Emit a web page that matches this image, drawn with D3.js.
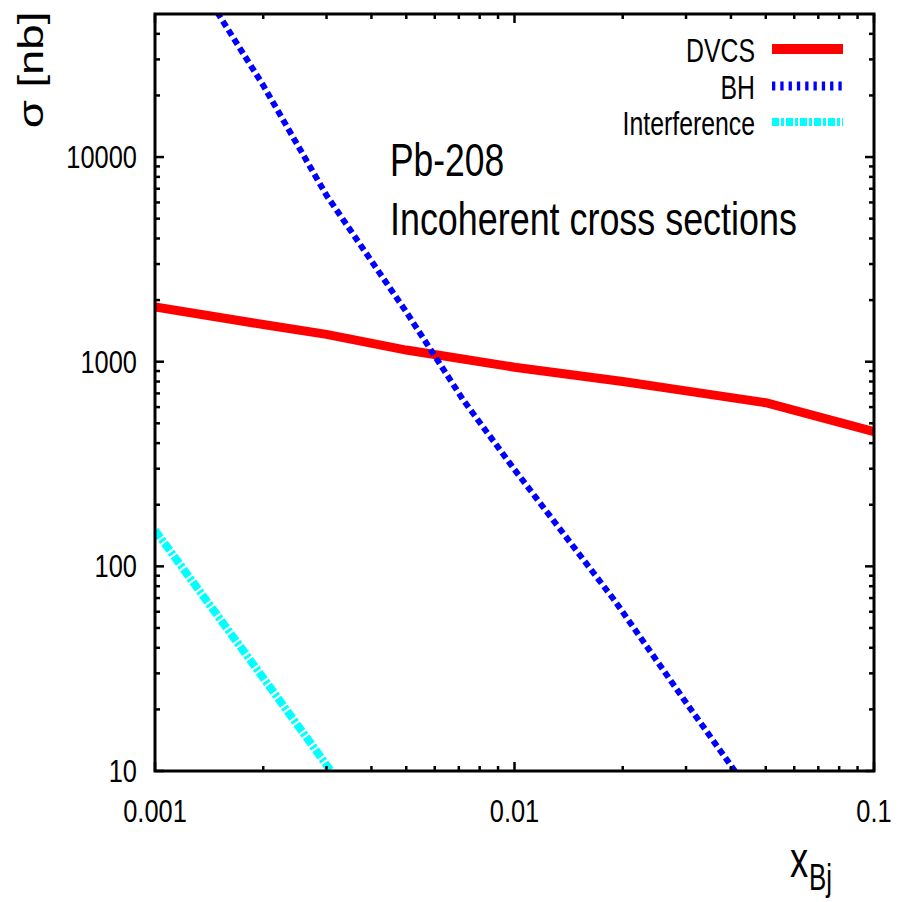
<!DOCTYPE html>
<html>
<head>
<meta charset="UTF-8">
<script src="https://d3js.org/d3.v7.min.js"></script>
<style>
  body { margin: 0; background: white; }
  svg { display: block; }
  text { font-family: "Liberation Sans", Arial, sans-serif; fill: #000; }
</style>
</head>
<body>
<svg id="chart" width="902" height="902"></svg>
<script>
// data
const xDvcs = [0.001, 0.002, 0.003, 0.005, 0.01, 0.02, 0.03, 0.05, 0.1];
const yDvcs = [1850, 1520, 1360, 1140, 940, 800, 720, 630, 455];

const xBh = [0.001, 0.0015, 0.002, 0.003, 0.005, 0.0072, 0.01, 0.019, 0.03, 0.041, 0.05];
const yBh = [175000, 50000, 22400, 6500, 1750, 650, 297, 68, 21.6, 10, 6.1];

const xInt = [0.001, 0.002, 0.003, 0.005];
const yInt = [150, 28.5, 10.7, 3.1];

const xTicks = [0.001, 0.01, 0.1];
const xTickLabels = ["0.001", "0.01", "0.1"];
const yTicks = [10, 100, 1000, 10000];
const yTickLabels = ["10", "100", "1000", "10000"];

const series = [
  { name: "DVCS", xs: xDvcs, ys: yDvcs, color: "#ff0000", width: 9, dash: null, legDash: null, legWidth: 10 },
  { name: "BH", xs: xBh, ys: yBh, color: "#0000ff", width: 6, dash: "6.5,4", legDash: "3.3,5", legWidth: 9 },
  { name: "Interference", xs: xInt, ys: yInt, color: "#00ffff", width: 8, dash: "9,2,3,2", legDash: "7,2,3,2", legWidth: 8 }
];

const svg = d3.select("#chart");
const pLeft = 155, pRight = 874, pTop = 14, pBottom = 771;

const x = d3.scaleLog().domain([0.001, 0.1]).range([pLeft, pRight]);
const y = d3.scaleLog().domain([10, 50000]).range([pBottom, pTop]);

svg.append("defs").append("clipPath").attr("id", "clip")
  .append("rect").attr("x", pLeft).attr("y", pTop)
  .attr("width", pRight - pLeft).attr("height", pBottom - pTop);

// helper for the narrow-looking text of the original
function label(px, py, str, size, anchor, sx, rot) {
  const g = svg.append("g")
    .attr("transform", `translate(${px},${py})` + (rot ? ` rotate(${rot})` : "") + ` scale(${sx},1)`);
  return g.append("text").attr("font-size", size).attr("text-anchor", anchor).text(str);
}

// curves
const line = d3.line().x(d => x(d[0])).y(d => y(d[1]));
const plot = svg.append("g").attr("clip-path", "url(#clip)");
series.forEach(s => {
  plot.append("path")
    .datum(s.xs.map((v, i) => [v, s.ys[i]]))
    .attr("d", line)
    .attr("fill", "none")
    .attr("stroke", s.color)
    .attr("stroke-width", s.width)
    .attr("stroke-dasharray", s.dash);
});

// ticks (inward, mirrored)
const tickG = svg.append("g").attr("stroke", "#000").attr("stroke-width", 2.5);
function minorList(lo, hi) {
  const out = [];
  for (let d = lo; d < hi * 0.99; d *= 10)
    for (let k = 1; k < 10; k++) out.push({ v: d * k, major: k === 1 });
  out.push({ v: hi, major: true });
  return out;
}
minorList(0.001, 0.1).forEach(t => {
  const len = t.major ? 9 : 5;
  const px = x(t.v);
  tickG.append("line").attr("x1", px).attr("x2", px).attr("y1", pBottom).attr("y2", pBottom - len);
  tickG.append("line").attr("x1", px).attr("x2", px).attr("y1", pTop).attr("y2", pTop + len);
});
minorList(10, 10000).concat([20000, 30000, 40000].map(v => ({ v, major: false }))).forEach(t => {
  const len = t.major ? 9 : 5;
  const py = y(t.v);
  tickG.append("line").attr("x1", pLeft).attr("x2", pLeft + len).attr("y1", py).attr("y2", py);
  tickG.append("line").attr("x1", pRight).attr("x2", pRight - len).attr("y1", py).attr("y2", py);
});

// frame
svg.append("rect").attr("x", pLeft).attr("y", pTop)
  .attr("width", pRight - pLeft).attr("height", pBottom - pTop)
  .attr("fill", "none").attr("stroke", "#000").attr("stroke-width", 3);

// tick labels
yTicks.forEach((v, i) => label(137, y(v) + 11, yTickLabels[i], 31, "end", 0.82));
xTicks.forEach((v, i) => label(x(v), 822, xTickLabels[i], 31, "middle", 0.82));

// axis titles
label(43, 70, "σ [nb]", 35, "middle", 1.3, -90);
label(790, 877, "x", 52, "start", 0.7);
label(809, 890, "Bj", 37, "start", 0.7);

// annotation
label(390, 176, "Pb-208", 46, "start", 0.77);
label(390, 235, "Incoherent cross sections", 46, "start", 0.78);

// legend
const legY = [49, 86, 122];
series.forEach((s, i) => {
  label(755, legY[i] + 13, s.name, 34, "end", 0.73);
  svg.append("line")
    .attr("x1", 772).attr("x2", 843)
    .attr("y1", legY[i]).attr("y2", legY[i])
    .attr("stroke", s.color)
    .attr("stroke-width", s.legWidth)
    .attr("stroke-dasharray", s.legDash);
});
</script>
</body>
</html>
